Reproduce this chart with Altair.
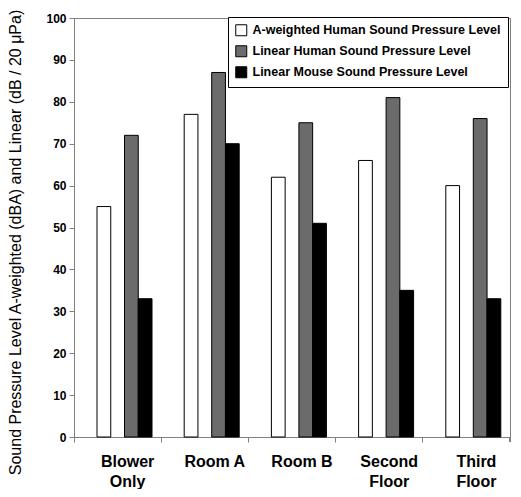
import altair as alt
import pandas as pd

locations = ["Blower Only", "Room A", "Room B", "Second Floor", "Third Floor"]
series = [
    "A-weighted Human Sound Pressure Level",
    "Linear Human Sound Pressure Level",
    "Linear Mouse Sound Pressure Level",
]
a_weighted_human = [55, 77, 62, 66, 60]
linear_human = [72, 87, 75, 81, 76]
linear_mouse = [33, 70, 51, 35, 33]
colors = ["#ffffff", "#6b6b6b", "#000000"]
y_ticks = [0, 10, 20, 30, 40, 50, 60, 70, 80, 90, 100]

rows = []
for i, loc in enumerate(locations):
    for s, vals in zip(series, [a_weighted_human, linear_human, linear_mouse]):
        rows.append({"location": loc, "series": s, "value": vals[i]})
df = pd.DataFrame(rows)

offset_domain = [series[0], "gap", series[1], series[2]]
FONT = "Liberation Sans"
W, H = 436, 419

label_expr = ("datum.label == 'Room A' || datum.label == 'Room B' ? datum.label : "
              "split(datum.label, ' ')")

bars = alt.Chart(df).mark_bar(stroke="black", strokeWidth=1, opacity=1).encode(
    x=alt.X(
        "location:N",
        sort=locations,
        scale=alt.Scale(paddingInner=0, paddingOuter=0),
        axis=alt.Axis(
            title=None, labelAngle=0, bandPosition=0, labelOffset=10,
            labelExpr=label_expr, labelFont=FONT, labelFontSize=16,
            labelFontWeight="bold", labelColor="black", labelPadding=11,
            labelLineHeight=20, tickSize=5, tickColor="#808080",
            domainColor="#808080", grid=False,
        ),
    ),
    xOffset=alt.XOffset(
        "series:N",
        scale=alt.Scale(domain=offset_domain, range=[23, 78], paddingInner=0, paddingOuter=0),
    ),
    y=alt.Y(
        "value:Q",
        scale=alt.Scale(domain=[0, 100], nice=False),
        axis=alt.Axis(
            title="Sound Pressure Level A-weighted (dBA) and  Linear (dB / 20 μPa)",
            values=y_ticks, grid=False, labelFont=FONT, labelFontSize=12,
            labelFontWeight="bold", labelColor="black", labelPadding=3,
            tickSize=5, tickColor="#808080", domainColor="#808080",
            titleFont=FONT, titleFontSize=16, titleFontWeight="normal",
            titleColor="black", titleX=-54, titleY=224, titleBaseline="alphabetic",
            titleAngle=270, titleAlign="center",
        ),
    ),
    color=alt.Color(
        "series:N",
        scale=alt.Scale(domain=series, range=colors),
        legend=alt.Legend(
            title=None, orient="none", legendX=154, legendY=-1,
            labelFont=FONT, labelFontSize=12.5, labelFontWeight="bold",
            labelColor="black", labelLimit=400, labelOffset=5,
            symbolType="square", symbolSize=121, symbolStrokeColor="black",
            symbolStrokeWidth=1, symbolOpacity=1, rowPadding=5, padding=7,
            strokeColor="black", fillColor="white",
        ),
    ),
)

end_tick = alt.Chart(df).mark_rule(color="#808080", strokeWidth=1).encode(
    x=alt.value(W), y=alt.value(H), y2=alt.value(H + 5)
)

chart = (
    alt.layer(bars, end_tick)
    .properties(
        width=W, height=H,
        autosize=alt.AutoSizeParams(type="none"),
        padding={"left": 66, "top": 10, "right": 3, "bottom": 52},
        background="white",
    )
    .configure_view(stroke="#808080", strokeWidth=1)
)

chart.save("out.html", embed_options={"renderer": "svg", "actions": False})
